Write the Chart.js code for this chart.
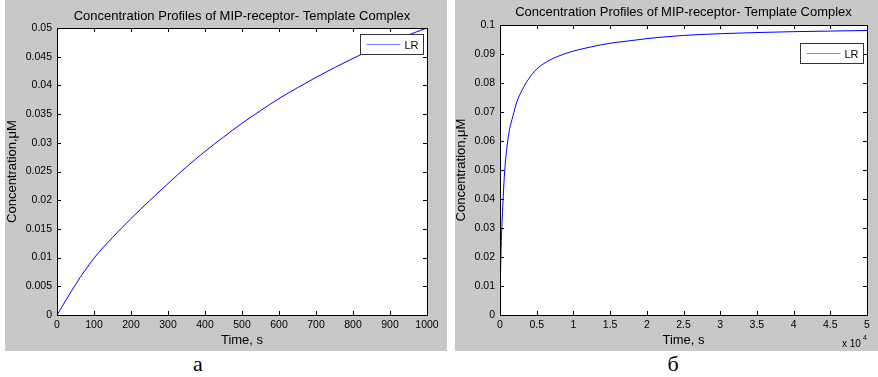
<!DOCTYPE html>
<html>
<head>
<meta charset="utf-8">
<script src="https://cdn.jsdelivr.net/npm/chart.js@4"></script>
<style>
body { margin:0; background:#fff; width:878px; height:377px; position:relative; overflow:hidden; }
.panel { position:absolute; top:0; height:351px; background:#c8c8c8; }
#panelA { left:5px; width:442px; }
#panelB { left:455px; width:423px; }
.cap { position:absolute; top:351px; width:40px; text-align:center; font-family:"Liberation Serif", "Times New Roman", serif; font-size:22px; color:#000; }
</style>
</head>
<body>
<div class="panel" id="panelA"><canvas id="chartA" width="442" height="351"></canvas></div>
<div class="panel" id="panelB"><canvas id="chartB" width="423" height="351"></canvas></div>
<div class="cap" style="left:178px">а</div>
<div class="cap" style="left:653px">б</div>
<script>
// panel a: 0..1000 s
var timeA = [0, 50, 100, 150, 200, 250, 300, 350, 400, 450, 500, 550, 600, 650, 700, 750, 800, 850, 900, 950, 1000];
var concA = [0, 0.0053, 0.0099, 0.0135, 0.0168, 0.0199, 0.0229, 0.0258, 0.0285, 0.0310, 0.0334, 0.0356, 0.0377, 0.0396, 0.0414, 0.0431, 0.0447, 0.0462, 0.0475, 0.0488, 0.0500];

// panel б: 0..50000 s
var timeB = [0, 50, 120, 250, 420, 650, 950, 1300, 1750, 2300, 3000, 3800, 5000, 6500, 8000, 10000, 12500, 15000, 17500, 20000, 25000, 30000, 35000, 40000, 45000, 50000];
var concB = [0, 0.010, 0.020, 0.030, 0.040, 0.050, 0.058, 0.064, 0.0685, 0.0735, 0.0775, 0.081, 0.0848, 0.0875, 0.0893, 0.0910, 0.0925, 0.0937, 0.0945, 0.0953, 0.0964, 0.0970, 0.0974, 0.0977, 0.0979, 0.0981];

var titleText = 'Concentration Profiles of MIP-receptor- Template Complex';
var seriesName = 'LR';

Chart.defaults.font.family = '"Liberation Sans", Arial, sans-serif';
Chart.defaults.color = '#000';

function fmt(v) { return String(+v.toFixed(4)); }

// white plot area
var plotBg = {
    id: 'plotBg',
    beforeDatasetsDraw: function(chart) {
        var a = chart.chartArea;
        chart.ctx.save();
        chart.ctx.fillStyle = '#fff';
        chart.ctx.fillRect(a.left, a.top, a.right - a.left, a.bottom - a.top);
        chart.ctx.restore();
    }
};

// black box with inward ticks on all four sides (matlab style)
var frameTicks = {
    id: 'frameTicks',
    afterDatasetsDraw: function(chart) {
        var ctx = chart.ctx, a = chart.chartArea, sx = chart.scales.x, sy = chart.scales.y;
        ctx.save();
        ctx.strokeStyle = '#000';
        ctx.lineWidth = 1;
        ctx.beginPath();
        sx.ticks.forEach(function(t) {
            var px = Math.round(sx.getPixelForValue(t.value)) + 0.5;
            ctx.moveTo(px, a.bottom); ctx.lineTo(px, a.bottom - 4);
            ctx.moveTo(px, a.top); ctx.lineTo(px, a.top + 4);
        });
        sy.ticks.forEach(function(t) {
            var py = Math.round(sy.getPixelForValue(t.value)) + 0.5;
            ctx.moveTo(a.left, py); ctx.lineTo(a.left + 4, py);
            ctx.moveTo(a.right, py); ctx.lineTo(a.right - 4, py);
        });
        ctx.stroke();
        ctx.strokeRect(Math.round(a.left) + 0.5, Math.round(a.top) + 0.5, Math.round(a.right - a.left), Math.round(a.bottom - a.top));
        ctx.restore();
    }
};

// legend box inside the plot, top right
var insideLegend = {
    id: 'insideLegend',
    afterDraw: function(chart, args, opts) {
        var ctx = chart.ctx, a = chart.chartArea;
        var ds = chart.data.datasets[0];
        var w = 63, h = 20;
        var x = Math.round(a.right - 4 - w) + 0.5, y = Math.round(a.top + opts.top) + 0.5;
        ctx.save();
        ctx.fillStyle = '#fff';
        ctx.fillRect(x, y, w, h);
        ctx.strokeStyle = '#333';
        ctx.lineWidth = 1;
        ctx.strokeRect(x, y, w, h);
        ctx.strokeStyle = '#7f7fff';
        ctx.beginPath();
        ctx.moveTo(x + 6, y + h / 2); ctx.lineTo(x + 40, y + h / 2);
        ctx.stroke();
        ctx.fillStyle = '#000';
        ctx.font = '11px "Liberation Sans", Arial, sans-serif';
        ctx.textBaseline = 'middle';
        ctx.fillText(ds.label, x + 44, y + h / 2 + 1);
        ctx.restore();
    }
};

// "x 10^4" multiplier under the x axis
var expLabel = {
    id: 'expLabel',
    afterDraw: function(chart, args, opts) {
        if (!opts.text) return;
        var ctx = chart.ctx, a = chart.chartArea;
        ctx.save();
        ctx.fillStyle = '#000';
        ctx.textBaseline = 'middle';
        ctx.font = '10px "Liberation Sans", Arial, sans-serif';
        ctx.fillText('x 10', a.right - 25, a.bottom + 29);
        ctx.font = '7px "Liberation Sans", Arial, sans-serif';
        ctx.fillText(opts.text, a.right - 4, a.bottom + 23);
        ctx.restore();
    }
};

function makeChart(id, times, conc, cfg) {
    var pts = times.map(function(t, i) { return {x: t, y: conc[i]}; });
    return new Chart(document.getElementById(id).getContext('2d'), {
        type: 'line',
        data: {
            datasets: [{
                label: seriesName,
                data: pts,
                borderColor: '#0000ff',
                borderWidth: 1,
                pointRadius: 0,
                cubicInterpolationMode: 'monotone',
                fill: false
            }]
        },
        options: {
            responsive: false,
            animation: false,
            devicePixelRatio: 1,
            layout: { padding: { top: 0, left: 0, bottom: 0, right: cfg.padRight } },
            plugins: {
                legend: { display: false },
                tooltip: { enabled: false },
                title: {
                    display: true,
                    text: titleText,
                    fullSize: false,
                    color: '#000',
                    font: { size: 13, weight: 'normal', lineHeight: 1 },
                    padding: cfg.titlePad
                },
                insideLegend: { top: cfg.legendTop },
                expLabel: { text: cfg.exp }
            },
            scales: {
                x: {
                    type: 'linear',
                    min: 0,
                    max: cfg.xMax,
                    grid: { display: false, drawTicks: false },
                    border: { display: false },
                    ticks: {
                        stepSize: cfg.xStep,
                        autoSkip: false,
                        maxRotation: 0,
                        padding: 4,
                        color: '#000',
                        font: { size: 10.5 },
                        callback: cfg.xFmt
                    },
                    title: {
                        display: true,
                        text: 'Time, s',
                        color: '#000',
                        font: { size: 13, lineHeight: 1 },
                        padding: { top: 0, bottom: 4 }
                    },
                    afterFit: function(s) { s.height = 36; }
                },
                y: {
                    min: 0,
                    max: cfg.yMax,
                    grid: { display: false, drawTicks: false },
                    border: { display: false },
                    ticks: {
                        stepSize: cfg.yStep,
                        autoSkip: false,
                        padding: 5,
                        color: '#000',
                        font: { size: 10.5 },
                        callback: fmt
                    },
                    title: {
                        display: true,
                        text: 'Concentration,\u03bcM',
                        color: '#000',
                        font: { size: 13, lineHeight: 1 },
                        padding: { top: cfg.yTitleOff, bottom: 0 }
                    },
                    afterFit: function(s) { s.width = cfg.yWidth; }
                }
            }
        },
        plugins: [plotBg, frameTicks, insideLegend, expLabel]
    });
}

makeChart('chartA', timeA, concA, {
    padRight: 20, yWidth: 52, yTitleOff: 1,
    titlePad: { top: 10, bottom: 5 },
    xMax: 1000, xStep: 100, xFmt: fmt,
    yMax: 0.05, yStep: 0.005,
    legendTop: 6, exp: ''
});

makeChart('chartB', timeB, concB, {
    padRight: 11, yWidth: 45, yTitleOff: 0,
    titlePad: { top: 6, bottom: 6 },
    xMax: 50000, xStep: 5000, xFmt: function(v) { return fmt(v / 10000); },
    yMax: 0.1, yStep: 0.01,
    legendTop: 18, exp: '4'
});
</script>
</body>
</html>
